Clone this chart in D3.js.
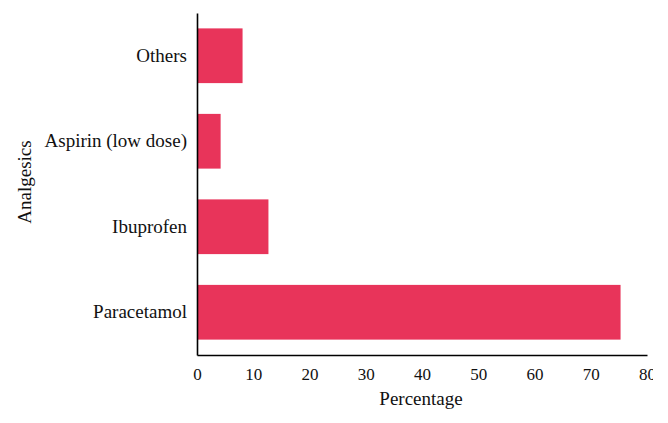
<!DOCTYPE html>
<html><head><meta charset="utf-8">
<script src="https://cdn.jsdelivr.net/npm/d3@7"></script>
<style>html,body{margin:0;padding:0;background:#fff;}svg{display:block;}</style>
</head><body>
<script>
const categories = ["Paracetamol", "Ibuprofen", "Aspirin (low dose)", "Others"];
const values = [75.3, 12.7, 4.2, 8.1];
const xTicks = [0, 10, 20, 30, 40, 50, 60, 70, 80];
const xTitle = "Percentage";
const yTitle = "Analgesics";

const W = 668, H = 423;
const m = {left: 197, right: 21, top: 13, bottom: 68};
const font = "'Liberation Serif', 'DejaVu Serif', serif";

const svg = d3.select("body").append("svg").attr("width", W).attr("height", H);
const clip = svg.append("defs").append("clipPath").attr("id", "c")
  .append("rect").attr("x", 0).attr("y", 0).attr("width", 653).attr("height", H);
const g = svg.append("g").attr("clip-path", "url(#c)");

const x = d3.scaleLinear().domain([0, 80]).range([m.left, W - m.right]);
const y = d3.scaleBand().domain(categories.slice().reverse())
  .range([m.top, H - m.bottom]).paddingInner(0.36).paddingOuter(0.18);

const data = categories.map((c, i) => ({c, v: values[i]}));

g.selectAll("rect.bar").data(data).enter().append("rect")
  .attr("class", "bar")
  .attr("x", x(0)).attr("y", d => y(d.c))
  .attr("width", d => x(d.v) - x(0)).attr("height", y.bandwidth())
  .attr("fill", "#e8345a");

const xAxis = g.append("g").attr("transform", `translate(0,${H - m.bottom})`)
  .call(d3.axisBottom(x).tickValues(xTicks).tickSize(0).tickPadding(13));
xAxis.select(".domain").attr("stroke", "#000").attr("stroke-width", 1.6);
xAxis.selectAll("text").attr("font-family", font).attr("font-size", 17).attr("fill", "#111");

const yAxis = g.append("g").attr("transform", `translate(${m.left},0)`)
  .call(d3.axisLeft(y).tickSize(0).tickPadding(10));
yAxis.select(".domain").attr("stroke", "#000").attr("stroke-width", 1.6);
yAxis.selectAll("text").attr("font-family", font).attr("font-size", 19).attr("fill", "#111");

g.append("text").attr("x", (x(0) + x(80)) / 2 - 1).attr("y", 405)
  .attr("text-anchor", "middle").attr("font-family", font).attr("font-size", 19)
  .attr("fill", "#111").text(xTitle);

g.append("text").attr("transform", `translate(31,${(m.top + H - m.bottom) / 2 - 2}) rotate(-90)`)
  .attr("text-anchor", "middle").attr("font-family", font).attr("font-size", 19)
  .attr("fill", "#111").text(yTitle);
</script>
</body></html>
